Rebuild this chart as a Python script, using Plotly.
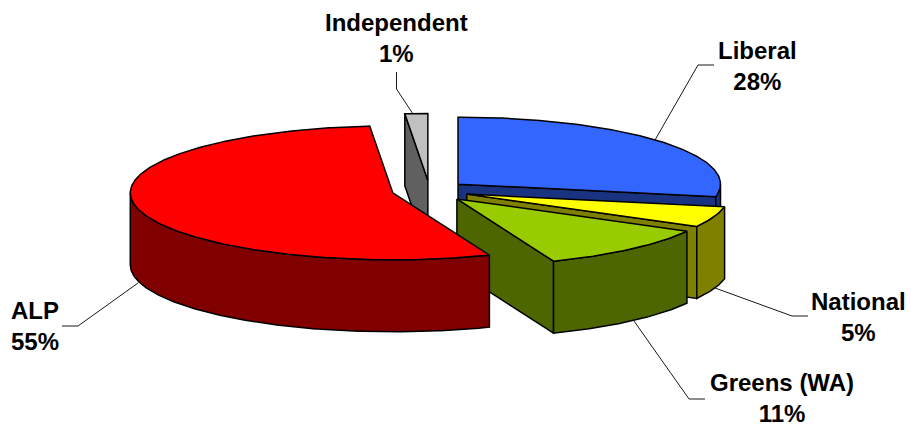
import numpy as np
import plotly.graph_objects as go

# Data
categories = ["Liberal", "National", "Greens (WA)", "ALP", "Independent"]
shares = [28.0, 5.0, 11.0, 54.6, 1.4]

# Styling
top_colors = ["#3366FF", "#FFFF00", "#99CC00", "#FF0000", "#C0C0C0"]
wall_colors = ["#1A3380", "#808000", "#4D6600", "#800000", "#606060"]
paint_order = ["Liberal", "National", "Greens (WA)", "Independent", "ALP"]
explode_scale = [1.0, 1.07, 1.12, 1.02, 1.0]

# Projection of the tilted pie, in screen pixels
CX, CY = 429.5, 190.5
RX, RY = 262.5, 67.0
DEPTH = 72.0
EXPLODE_X, EXPLODE_Y = 37.0, 10.0

# Label placement and leader lines
label_pos = {
    "Liberal": (757, 66), "National": (858, 317), "Greens (WA)": (782, 398),
    "ALP": (35, 326), "Independent": (396, 38),
}
leaders = {
    "Liberal": ([714, 698, 655], [65, 65, 140]),
    "National": ([808, 792, 715], [316, 316, 288]),
    "Greens (WA)": ([705, 689, 634], [399, 399, 321]),
    "ALP": ([62, 78, 138], [326, 326, 283]),
    "Independent": ([396.5, 396.5, 413], [72, 89, 114]),
}

# Angular extents, clockwise from 12 o'clock
edges = np.concatenate([[0], np.cumsum(shares)]) * 3.6
extent = {c: (edges[i], edges[i + 1]) for i, c in enumerate(categories)}

fig = go.Figure()


def poly(xs, ys, fill):
    fig.add_trace(go.Scatter(
        x=list(xs) + [xs[0]], y=list(ys) + [ys[0]], mode="lines", fill="toself",
        fillcolor=fill, line=dict(color="#000000", width=1.5),
        hoverinfo="skip", showlegend=False))


def rim(ax, ay, a0, a1):
    t = np.radians(np.linspace(a0, a1, max(3, int(abs(a1 - a0) * 2))))
    return ax + RX * np.sin(t), ay - RY * np.cos(t)


for name in paint_order:
    i = categories.index(name)
    a0, a1 = extent[name]
    mid = np.radians((a0 + a1) / 2)
    ax = CX + explode_scale[i] * EXPLODE_X * np.sin(mid)
    ay = CY - explode_scale[i] * EXPLODE_Y * np.cos(mid)

    # radial faces turned towards the viewer
    for ang, visible in ((a0, np.sin(np.radians(a0)) < -1e-6),
                         (a1, np.sin(np.radians(a1)) > 1e-6)):
        if visible:
            ex, ey = rim(ax, ay, ang, ang)
            poly([ax, ex[0], ex[0], ax], [ay, ey[0], ey[0] + DEPTH, ay + DEPTH],
                 wall_colors[i])

    # outer wall: only the near half of the rim shows
    w0, w1 = max(a0, 90), min(a1, 270)
    if w1 > w0:
        rx_, ry_ = rim(ax, ay, w0, w1)
        poly(np.concatenate([rx_, rx_[::-1]]),
             np.concatenate([ry_, ry_[::-1] + DEPTH]), wall_colors[i])

    # top face
    tx, ty = rim(ax, ay, a0, a1)
    poly(np.concatenate([[ax], tx]), np.concatenate([[ay], ty]), top_colors[i])

for name in categories:
    lx, ly = leaders[name]
    fig.add_trace(go.Scatter(x=lx, y=ly, mode="lines",
                             line=dict(color="#1A1A1A", width=1),
                             hoverinfo="skip", showlegend=False))
    px, py = label_pos[name]
    pct = round(shares[categories.index(name)])
    fig.add_annotation(x=px, y=py, text=f"<b>{name}<br>{pct}%</b>", showarrow=False,
                       xanchor="center", yanchor="middle", align="center",
                       font=dict(family="Liberation Sans", size=24, color="#000000"))

fig.update_layout(
    width=911, height=426, margin=dict(l=0, r=0, t=0, b=0),
    paper_bgcolor="#FFFFFF", plot_bgcolor="#FFFFFF",
    xaxis=dict(range=[0, 911], visible=False, fixedrange=True),
    yaxis=dict(range=[426, 0], visible=False, fixedrange=True),
)
fig.write_html("out.html", config={"displayModeBar": False},
               post_script="document.body.style.margin='0';")
